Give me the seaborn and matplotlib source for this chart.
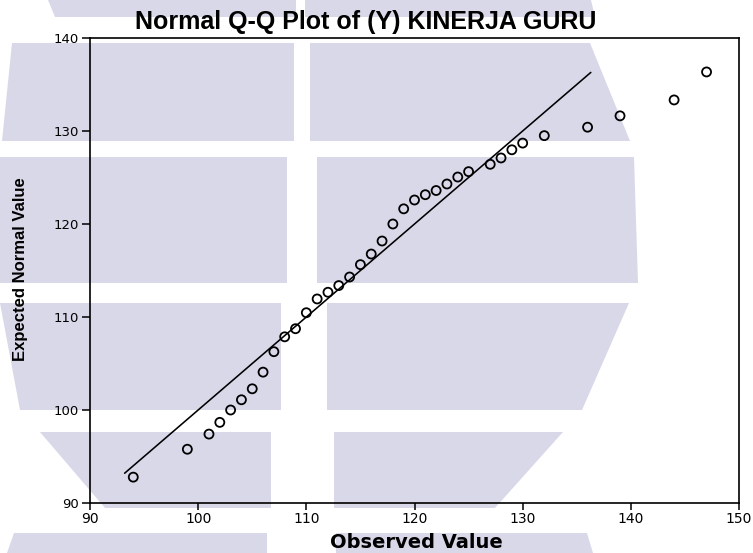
import matplotlib
matplotlib.use("Agg")
import matplotlib.pyplot as plt
from matplotlib.patches import Polygon
import seaborn as sns
import pandas as pd

# Observed scores and their expected normal quantiles
observed = [94, 99, 101, 102, 103, 104, 105, 106, 107, 108, 109, 110, 111, 112,
            113, 114, 115, 116, 117, 118, 119, 120, 121, 122, 123, 124, 125, 127,
            128, 129, 130, 132, 136, 139, 144, 147]
expected = [92.78, 95.78, 97.41, 98.67, 100.0, 101.1, 102.28, 104.07, 106.27,
            107.87, 108.74, 110.46, 111.94, 112.66, 113.38, 114.3, 115.63,
            116.77, 118.17, 120.0, 121.63, 122.58, 123.15, 123.6, 124.3, 125.05,
            125.63, 126.42, 127.1, 127.98, 128.7, 129.5, 130.41, 131.63, 133.34,
            136.35]
ref_line = [93.2, 136.3]          # y = x reference segment
x_ticks = [90, 100, 110, 120, 130, 140, 150]
y_ticks = [90, 100, 110, 120, 130, 140]

df = pd.DataFrame({"obs": observed, "exp": expected})
line_df = pd.DataFrame({"x": ref_line, "y": ref_line})

sns.set_style("white")
plt.rcParams["font.family"] = ["DejaVu Sans"]
plt.rcParams["text.color"] = "black"
plt.rcParams["xtick.color"] = "black"
plt.rcParams["ytick.color"] = "black"

W, H = 753, 553
fig = plt.figure(figsize=(W / 100, H / 100), dpi=100)
fig.patch.set_facecolor("white")

# Light background emblem drawn in bands (pixel coordinates, y from top)
band_color = "#d9d8e9"
bands = [
    # y_top, y_bot, left_top, left_bot, inner_l, inner_r, right_top, right_bot
    (0, 17, 48, 55, 296, 305, 591, 595),
    (43, 141, 12, 2, 294, 310, 590, 630),
    (157, 283, 0, 0, 287, 317, 634, 638),
    (303, 410, 0, 20, 281, 327, 629, 582),
    (432, 508, 40, 105, 271, 334, 563, 495),
    (533, 553, 14, 7, 267, 336, 587, 593),
]


def px(x, y):
    return (x / W, 1 - y / H)


for yt, yb, lt, lb, il, ir, rt, rb in bands:
    left = [px(lt, yt), px(il, yt), px(il, yb), px(lb, yb)]
    right = [px(ir, yt), px(rt, yt), px(rb, yb), px(ir, yb)]
    for pts in (left, right):
        fig.patches.append(Polygon(pts, closed=True, transform=fig.transFigure,
                                   facecolor=band_color, edgecolor="none",
                                   zorder=-5))

ax = fig.add_axes([90 / W, 50 / H, 649 / W, 465 / H])
ax.set_zorder(2)
ax.set_facecolor("none")
ax.patch.set_alpha(0)

sns.lineplot(data=line_df, x="x", y="y", ax=ax, color="black", linewidth=1.15,
             zorder=2)
sns.scatterplot(data=df, x="obs", y="exp", ax=ax, marker="o", s=42,
                facecolor="none", edgecolor="black", linewidth=1.3, zorder=3)

ax.set_xlim(90, 150)
ax.set_ylim(90, 140)
ax.set_xticks(x_ticks)
ax.set_yticks(y_ticks)
ax.tick_params(axis="x", direction="out", length=5, width=1.1, pad=1.5,
               labelsize=10, colors="black", bottom=True)
ax.tick_params(axis="y", direction="out", length=6, width=1.1, pad=2,
               labelsize=9.5, colors="black", left=True)
for s in ax.spines.values():
    s.set_visible(True)
    s.set_color("black")
    s.set_linewidth(1.2)

ax.set_xlabel("")
ax.set_ylabel("")

fig.text(366 / W, 1 - 22 / H, "Normal Q-Q Plot of (Y) KINERJA GURU",
         ha="center", va="center", fontsize=18, fontweight="bold",
         color="black", family=["Liberation Sans", "DejaVu Sans"], zorder=5)
fig.text(416 / W, 1 - 543 / H, "Observed Value", ha="center", va="center",
         fontsize=14, fontweight="bold", color="black",
         family=["DejaVu Sans"], zorder=5)
fig.text(21 / W, 1 - 269 / H, "Expected Normal Value", ha="center",
         va="center", rotation=90, fontsize=12, fontweight="bold",
         color="black",
         family=["Liberation Sans Narrow", "Liberation Sans", "DejaVu Sans"],
         zorder=5)

fig.savefig("out.png", dpi=100, facecolor="white")
